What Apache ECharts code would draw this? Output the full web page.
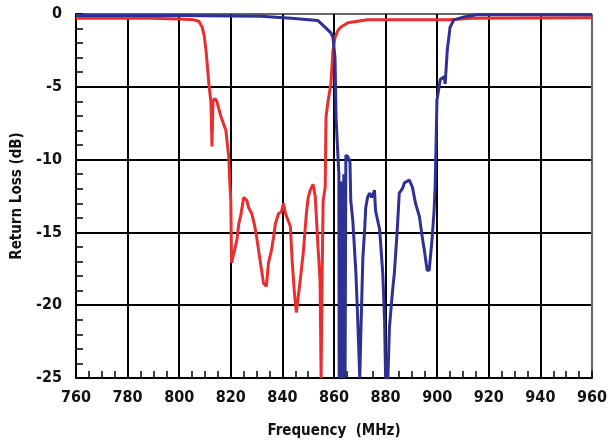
<!DOCTYPE html>
<html><head><meta charset="utf-8">
<script src="https://cdn.jsdelivr.net/npm/echarts@6/dist/echarts.min.js"></script>
<style>html,body{margin:0;padding:0;background:#fff}#c{width:610px;height:447px}</style>
</head><body><div id="c"></div>
<script>
const xTicks = [760,780,800,820,840,860,880,900,920,940,960];
const yTicks = [0,-5,-10,-15,-20,-25];

const redFreq = [760,788.5,800.0,805.7,807.6,808.9,809.7,810.4,811.6,812.3,812.7,813.1,813.9,814.6,816.1,818.1,819.2,819.6,820.0,820.3,821.1,822.4,823.1,823.9,825.0,826.2,826.9,828.1,829.2,830.0,831.5,832.7,833.8,834.6,835.8,836.6,837.3,838.5,839.6,840.4,841.2,841.9,843.1,843.8,844.6,845.4,846.1,846.9,848.1,849.3,850.0,850.8,851.9,852.7,853.1,853.8,854.6,855.0,855.4,855.8,856.6,856.9,857.7,858.8,859.6,860.4,861.6,862.7,865.4,873.0,905.0,913.5,960];
const redLoss = [-0.3,-0.3,-0.35,-0.4,-0.5,-0.9,-1.5,-2.5,-5,-6.0,-9.1,-6.0,-5.8,-6.0,-7,-8,-9.8,-11.5,-12.8,-17.1,-16.5,-15.5,-14.4,-13.8,-12.6,-12.8,-13.3,-13.7,-14.5,-15.3,-17.1,-18.5,-18.7,-17.1,-16.2,-15.3,-14.4,-13.7,-13.6,-13.0,-13.7,-13.8,-14.6,-17.0,-19.0,-20.5,-19.5,-18.3,-16.4,-13.7,-12.6,-12.1,-11.7,-12.5,-13.7,-16,-18.3,-25,-18,-12.8,-11.9,-7.1,-6.0,-4.8,-2.5,-1.6,-1.1,-0.9,-0.6,-0.4,-0.4,-0.3,-0.25];

const blueFreq = [760,800.0,831.9,843.4,853.8,856.5,858.8,859.6,860.4,860.8,861.4,861.9,862.0,862.2,862.4,862.6,862.8,863.0,863.2,863.4,863.6,863.8,864.0,864.2,864.3,864.6,865.4,866.2,866.5,867.3,868.5,869.2,870.0,870.4,871.2,871.9,872.3,873.0,873.8,874.6,875.7,876.1,877.7,878.9,879.6,880.0,880.9,881.5,882.7,883.4,884.6,885.3,886.5,887.3,889.2,890.4,891.6,893.1,894.2,895.0,896.1,896.9,898.0,898.8,899.2,899.6,899.9,901.2,902.7,903.1,903.9,905.0,906.5,910.4,915.4,960];
const blueLoss = [-0.1,-0.1,-0.15,-0.3,-0.45,-0.9,-1.3,-1.6,-3,-7.1,-9.3,-11,-25,-11.5,-25,-11.5,-25,-11.5,-25,-11.5,-25,-11,-25,-11,-25,-9.7,-9.8,-10.2,-12.8,-14.2,-17.8,-21,-25,-22,-16.7,-14.8,-13.3,-12.6,-12.3,-12.6,-12.1,-13.5,-14.8,-17.8,-21,-25,-25,-21.5,-19,-17.8,-14.6,-12.3,-12.0,-11.6,-11.4,-11.9,-13.0,-13.9,-15.3,-16.2,-17.6,-17.6,-15.5,-13.5,-11.9,-8.7,-5.9,-4.5,-4.3,-4.8,-2.5,-0.9,-0.4,-0.2,-0.05,-0.05];

const FONT = '"DejaVu Sans Condensed", "Liberation Sans Narrow", sans-serif';
const zip = (a, b) => a.map((v, i) => [v, b[i]]);

const chart = echarts.init(document.getElementById('c'), null, {renderer: 'canvas'});
chart.setOption({
  animation: false,
  backgroundColor: '#fff',
  grid: {left: 76, right: 14, top: 14, bottom: 69, containLabel: false},
  xAxis: {
    type: 'value', min: xTicks[0], max: xTicks[xTicks.length-1], interval: 20,
    name: 'Frequency  (MHz)', nameLocation: 'middle', nameGap: 46,
    nameTextStyle: {fontFamily: FONT, fontWeight: 'bold', fontSize: 15, color: '#111'},
    axisLine: {show: true, onZero: false, lineStyle: {color: '#000', width: 2}},
    axisTick: {show: true, inside: true, length: 7, lineStyle: {color: '#000', width: 1.5}},
    minorTick: {show: true, splitNumber: 4, length: 7, lineStyle: {color: '#000', width: 1.5}},
    splitLine: {show: true, lineStyle: {color: ['#000','#000','#000','#000','#000','#000','#000','#000','#000','#000','#666'], width: 2}},
    axisLabel: {fontFamily: FONT, fontWeight: 'bold', fontSize: 16, color: '#111', margin: 12,
      formatter: v => xTicks.includes(v) ? String(v) : ''}
  },
  yAxis: {
    type: 'value', min: -25, max: 0, interval: 5,
    name: 'Return Loss (dB)', nameLocation: 'middle', nameGap: 50, nameRotate: 90,
    nameTextStyle: {fontFamily: FONT, fontWeight: 'bold', fontSize: 15, color: '#111'},
    axisLine: {show: true, onZero: false, lineStyle: {color: '#000', width: 2}},
    axisTick: {show: true, inside: true, length: 7, lineStyle: {color: '#000', width: 1.5}},
    minorTick: {show: true, splitNumber: 5, length: 7, lineStyle: {color: '#000', width: 1.5}},
    splitLine: {show: true, lineStyle: {color: ['#000','#000','#000','#000','#000','#666'], width: 2}},
    axisLabel: {fontFamily: FONT, fontWeight: 'bold', fontSize: 16, color: '#111', margin: 14,
      formatter: v => yTicks.includes(v) ? String(v) : ''}
  },
  series: [
    {type: 'line', data: zip(redFreq, redLoss), showSymbol: false, symbol: 'none',
     lineStyle: {color: '#ec2d2f', width: 3}, clip: true},
    {type: 'line', data: zip(blueFreq, blueLoss), showSymbol: false, symbol: 'none',
     lineStyle: {color: '#2e3192', width: 3}, clip: true}
  ]
});
</script></body></html>
